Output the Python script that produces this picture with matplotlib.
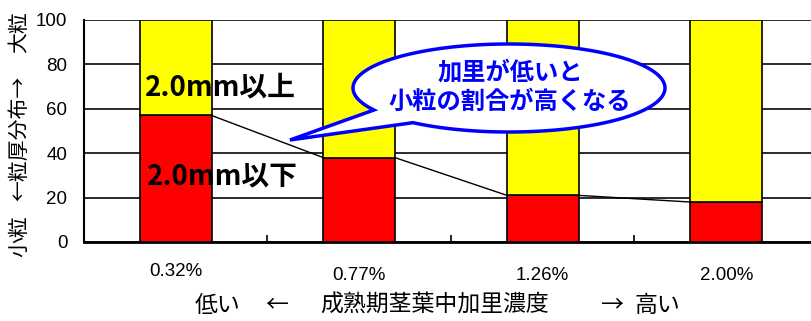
import numpy as np
import matplotlib
matplotlib.use("Agg")
import matplotlib.pyplot as plt
from matplotlib.path import Path
from matplotlib.patches import PathPatch
from matplotlib.transforms import blended_transform_factory

plt.rcParams['font.family'] = ['Noto Sans CJK JP', 'DejaVu Sans']

# Data
concentrations = ['0.32%', '0.77%', '1.26%', '2.00%']
small_share = [57, 38, 21, 18]          # 2.0mm以下 (%)
large_share = [100 - v for v in small_share]  # 2.0mm以上 (%)
y_ticks = [0, 20, 40, 60, 80, 100]

W, H = 812, 321
fig = plt.figure(figsize=(W / 100, H / 100), dpi=100)
ax = fig.add_axes([84 / W, 1 - 242 / H, (818 - 84) / W, (242 - 20) / H])


def fx(px):
    return px / W


def fy(py):
    return 1 - py / H


x = np.arange(len(concentrations))
bw = 0.39
ax.bar(x, small_share, width=bw, color='#FF0000', edgecolor='black', linewidth=1.2, zorder=3)
ax.bar(x, large_share, width=bw, bottom=small_share, color='#FFFF00',
       edgecolor='black', linewidth=1.2, zorder=3)

# series lines joining the tops of the lower segments
for i in range(len(x) - 1):
    ax.plot([x[i] + bw / 2, x[i + 1] - bw / 2], [small_share[i], small_share[i + 1]],
            color='black', lw=1.0, zorder=4)

ax.set_xlim(-0.5, len(x) - 0.5)
ax.set_ylim(0, 100)
ax.set_yticks(y_ticks)
ax.set_yticklabels([str(v) for v in y_ticks], family='Liberation Sans', fontsize=13.5)
ax.tick_params(axis='y', length=0, pad=12)
ax.set_xticks([0.5, 1.5, 2.5])
ax.set_xticklabels([])
ax.tick_params(axis='x', direction='in', length=5, width=1.2)
ax.yaxis.grid(True, color='#1a1a1a', lw=1.3, zorder=1)
ax.set_axisbelow(True)
for s in ['top', 'right']:
    ax.spines[s].set_visible(False)
ax.spines['left'].set_linewidth(1.5)
ax.spines['bottom'].set_linewidth(2.0)

# category labels
label_tr = blended_transform_factory(ax.transData, fig.transFigure)
label_y = [272, 276, 275, 275]
for xi, lab, ly in zip(x, concentrations, label_y):
    ax.text(xi, fy(ly), lab, transform=label_tr, ha='center', va='center',
            family='Liberation Sans', fontsize=13.5, clip_on=False)

# x-axis caption
for txt, cxp in [('低い', 218), ('←', 277), ('成熟期茎葉中加里濃度', 435), ('→', 612), ('高い', 657)]:
    fig.text(fx(cxp), fy(305), txt, ha='center', va='center', fontsize=16.5)

# y-axis caption
for txt, cyp in [('大粒', 32), ('←粒厚分布→', 138), ('小粒', 236)]:
    fig.text(fx(19), fy(cyp), txt, rotation=90, ha='center', va='center', fontsize=15)

# segment labels
ax.text(-0.168, 69.8, '2.0mm以上', fontsize=20, fontweight='bold', va='center', ha='left', zorder=6)
ax.text(-0.157, 29.3, '2.0mm以下', fontsize=20, fontweight='bold', va='center', ha='left', zorder=6)

# speech-bubble callout (figure pixel space, y down)
cx, cy, a, b = 509, 88, 156, 44
t1, t2 = np.deg2rad(150), np.deg2rad(128)
ts = np.linspace(t1, t2 + 2 * np.pi, 300)
px = cx + a * np.cos(ts)
py = cy + b * np.sin(ts)
tip = (290, 140)
verts = list(zip(px, py)) + [tip, (px[0], py[0])]
verts = [(fx(vx), fy(vy)) for vx, vy in verts]
codes = [Path.MOVETO] + [Path.LINETO] * (len(verts) - 2) + [Path.CLOSEPOLY]
bubble = PathPatch(Path(verts, codes), transform=fig.transFigure, facecolor='white',
                   edgecolor='#0000FF', lw=2.5, zorder=10)
fig.patches.append(bubble)
fig.text(fx(510), fy(72), '加里が低いと', color='#0000FF', fontsize=17.5,
         fontweight='bold', ha='center', va='center', zorder=11)
fig.text(fx(510), fy(102), '小粒の割合が高くなる', color='#0000FF', fontsize=17.5,
         fontweight='bold', ha='center', va='center', zorder=11)

fig.savefig('out.png', dpi=100)
